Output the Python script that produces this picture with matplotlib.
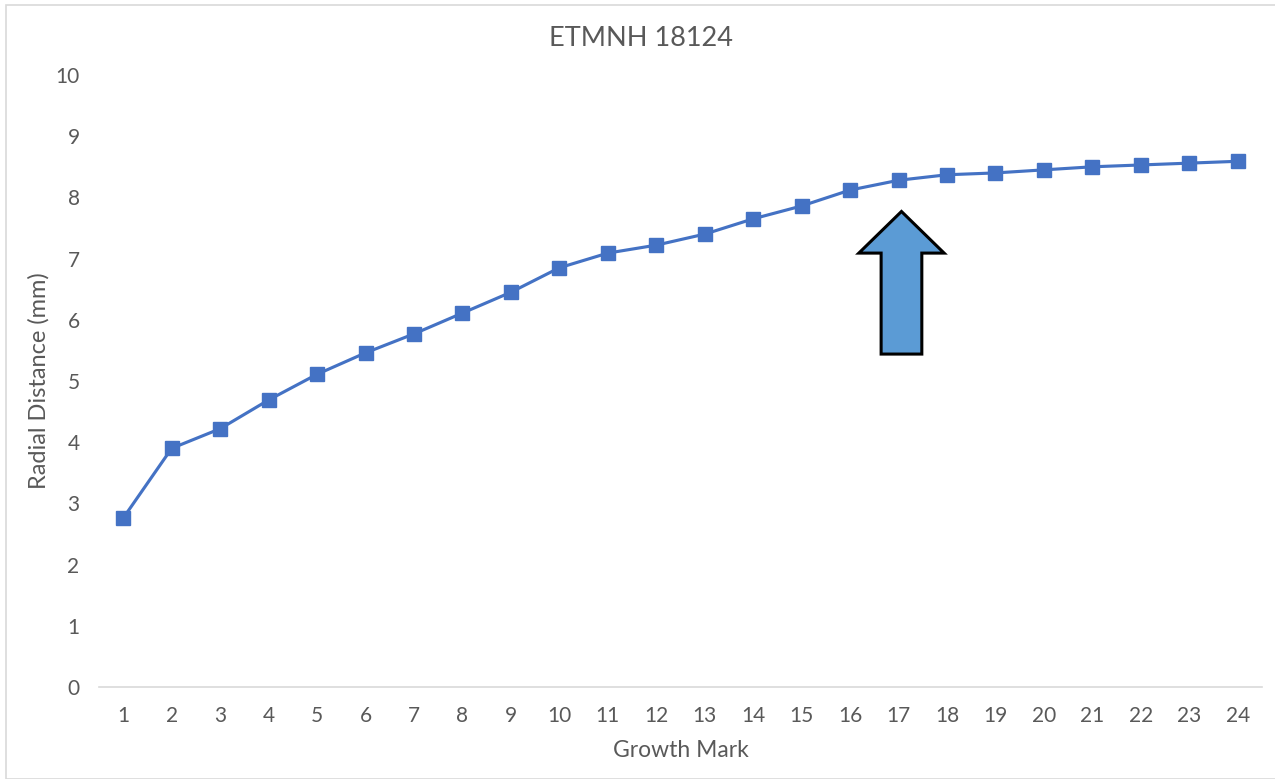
import matplotlib
matplotlib.use("Agg")
import matplotlib.pyplot as plt
from matplotlib.patches import FancyArrow, Rectangle

# Growth marks and radial distances (mm)
growth_marks = list(range(1, 25))
radial_distance = [2.76, 3.90, 4.22, 4.69, 5.11, 5.46, 5.77, 6.11, 6.45, 6.85,
                   7.09, 7.22, 7.40, 7.65, 7.86, 8.12, 8.28, 8.37, 8.40, 8.45,
                   8.50, 8.53, 8.56, 8.59]
y_ticks = list(range(0, 11))

plt.rcParams['font.family'] = ['Lato', 'DejaVu Sans']
grey = '#595959'
blue = '#4472C4'

fig = plt.figure(figsize=(12.75, 7.79), dpi=100)
fig.patches.append(Rectangle((6 / 1275, 0), 1.0, 1 - 5 / 779, transform=fig.transFigure,
                             fill=False, edgecolor='#D9D9D9', linewidth=1.2))
ax = fig.add_axes([99 / 1275, 92 / 779, (1262 - 99) / 1275, (687 - 75) / 779])

ax.plot(growth_marks, radial_distance, color=blue, linewidth=2.25,
        marker='s', markersize=9.5, zorder=3)

ax.set_xlim(0.5, 24.5)
ax.set_ylim(0, 10)
ax.set_xticks(growth_marks)
ax.set_yticks(y_ticks)
ax.tick_params(axis='both', length=0, labelsize=15, colors=grey)
ax.tick_params(axis='x', pad=14)
ax.tick_params(axis='y', pad=14)
for side in ['top', 'right', 'left']:
    ax.spines[side].set_visible(False)
ax.spines['bottom'].set_color('#D9D9D9')
ax.spines['bottom'].set_linewidth(1.2)

ax.set_xlabel('Growth Mark', fontsize=16.5, color=grey, labelpad=10)
ax.set_ylabel('Radial Distance (mm)', fontsize=17, color=grey, labelpad=4)
fig.text(0.503, 1 - 38 / 779, 'ETMNH 18124', ha='center', va='center',
         fontsize=19.5, color=grey)

# Upward arrow pointing at growth mark 17
ax.add_patch(FancyArrow(17.06, 5.44, 0, 2.33, width=0.84, head_width=1.76,
                        head_length=0.68, length_includes_head=True,
                        facecolor='#5B9BD5', edgecolor='black', linewidth=2.2,
                        zorder=4))

fig.savefig('out.png', dpi=100)
